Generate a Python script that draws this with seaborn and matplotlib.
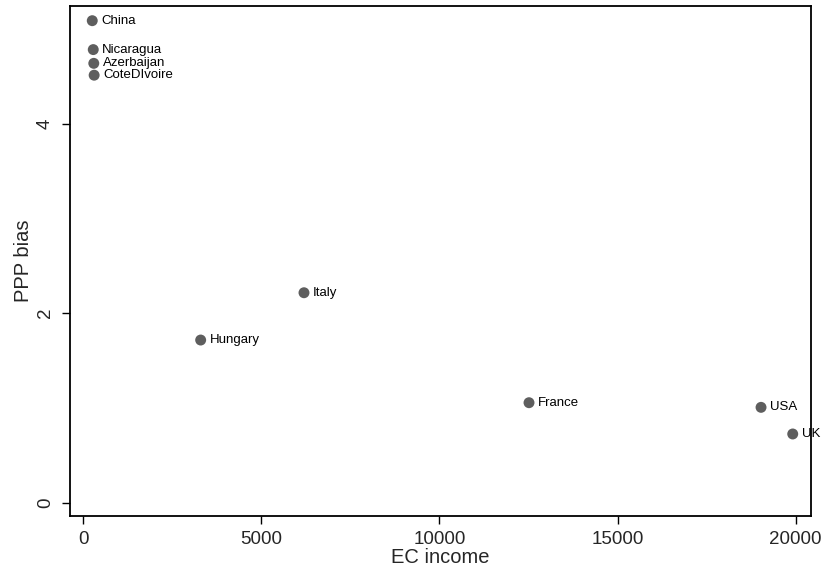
import matplotlib
matplotlib.use("Agg")
import matplotlib.pyplot as plt
import seaborn as sns
import pandas as pd

countries = ["China", "Nicaragua", "Azerbaijan", "CoteDIvoire", "Italy",
             "Hungary", "France", "USA", "UK"]
ec_income = [247, 275, 290, 300, 6194, 3292, 12514, 19031, 19921]
ppp_bias = [5.085, 4.78, 4.635, 4.51, 2.215, 1.716, 1.055, 1.006, 0.725]

df = pd.DataFrame({"EC income": ec_income, "PPP bias": ppp_bias, "country": countries})

sns.set_style("ticks")
plt.rcParams['font.family'] = ['Liberation Sans', 'DejaVu Sans']

fig = plt.figure(figsize=(8.28, 5.76), dpi=100)
ax = fig.add_axes([0.0845, 0.1047, 0.8950, 0.8849])

sns.scatterplot(data=df, x="EC income", y="PPP bias", ax=ax, s=62,
                color="#5e5e5e", edgecolor="none", linewidth=0, legend=False)

for xv, yv, name in zip(ec_income, ppp_bias, countries):
    ax.annotate(name, (xv, yv), xytext=(6.5, 0), textcoords="offset points",
                va="center", ha="left", fontsize=9.5, color="black")

ax.set_xlim(-379, 20435)
ax.set_ylim(-0.137, 5.24)
ax.set_xticks([0, 5000, 10000, 15000, 20000])
ax.set_yticks([0, 2, 4])
ax.set_xticklabels(["0", "5000", "10000", "15000", "20000"])
ax.set_yticklabels(["0", "2", "4"], rotation=90, va="center")
ax.tick_params(axis="both", labelsize=13.5, length=5.5, width=1, color="black")
ax.tick_params(axis="x", pad=5.5)
ax.tick_params(axis="y", pad=6)
ax.set_xlabel("EC income", fontsize=14.5, labelpad=0)
ax.set_ylabel("PPP bias", fontsize=14.5, labelpad=3)
for sp in ax.spines.values():
    sp.set_visible(True)
    sp.set_linewidth(1.3)
    sp.set_color("black")

fig.savefig("out.png", dpi=100)
